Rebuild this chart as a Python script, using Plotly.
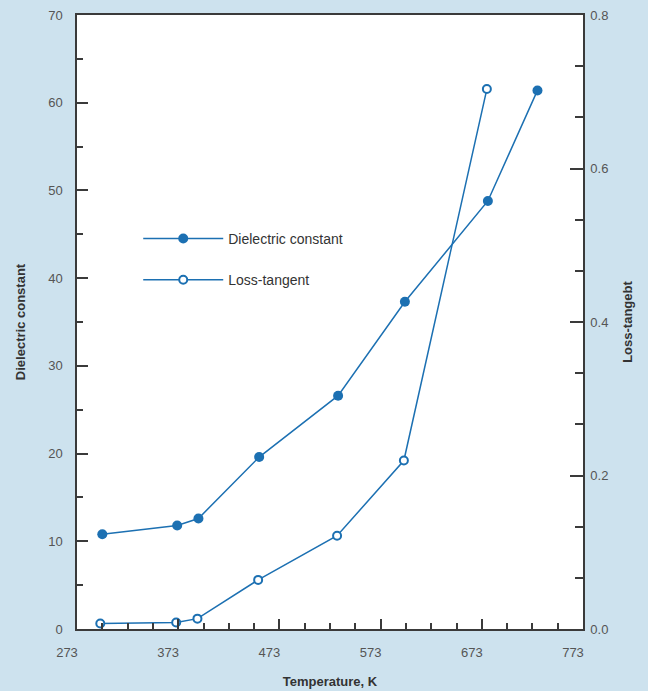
import plotly.graph_objects as go

# Temperature (K) and measured values
temp_dielectric = [298, 372, 393, 453, 531, 597, 679, 728]
dielectric_constant = [10.8, 11.8, 12.6, 19.6, 26.6, 37.3, 48.8, 61.4]

temp_loss = [296, 371, 392, 452, 530, 596, 678]
loss_tangent = [0.0072, 0.0085, 0.0135, 0.064, 0.1215, 0.2195, 0.7035]

x_ticks = [273, 373, 473, 573, 673, 773]

BLUE = "rgb(28,112,178)"
AXIS = "#3a3a3a"
TICKTXT = "#555555"
FONT = "Liberation Sans, Arial, sans-serif"

fig = go.Figure()

fig.add_trace(go.Scatter(
    x=temp_dielectric, y=dielectric_constant,
    name="Dielectric constant", legendgroup="a",
    mode="lines+markers",
    line=dict(color=BLUE, width=1.5),
    marker=dict(symbol="circle", size=10, color=BLUE),
    yaxis="y",
))

fig.add_trace(go.Scatter(
    x=temp_loss, y=loss_tangent,
    name="Loss-tangent", legendgroup="b",
    mode="lines+markers",
    line=dict(color=BLUE, width=1.5),
    marker=dict(symbol="circle", size=8, color="white",
                line=dict(color=BLUE, width=2)),
    yaxis="y2",
))

fig.update_layout(
    width=648, height=691,
    margin=dict(l=77, r=65, t=15, b=62, autoexpand=False),
    paper_bgcolor="#cde2ee",
    plot_bgcolor="white",
    font=dict(family=FONT, size=13, color=TICKTXT),
    showlegend=True,
    legend=dict(
        x=0.121, y=0.602, xanchor="left", yanchor="middle",
        bgcolor="rgba(0,0,0,0)",
        font=dict(family=FONT, size=14, color="#333333"),
        itemwidth=80,
        tracegroupgap=20,
    ),
    xaxis=dict(
        range=[273, 773], automargin=False,
        tickmode="array", tickvals=x_ticks, ticktext=[str(v) for v in x_ticks],
        ticks="inside", ticklen=10, tickwidth=1.5, tickcolor=AXIS,
        minor=dict(dtick=25, tick0=273, ticks="inside", ticklen=6,
                   tickwidth=1.5, tickcolor=AXIS),
        showline=True, linecolor=AXIS, linewidth=1.5, mirror=True,
        showgrid=False, zeroline=False,
        ticklabelshift=-10, ticklabelstandoff=11,
        tickfont=dict(size=13, color=TICKTXT),
        title=dict(text="<b>Temperature, K</b>", standoff=18,
                   font=dict(size=13, color="#333333")),
    ),
    yaxis=dict(
        range=[0, 70], dtick=10, tick0=0, automargin=False,
        ticks="inside", ticklen=11, tickwidth=1.5, tickcolor=AXIS,
        minor=dict(dtick=5, ticks="inside", ticklen=6,
                   tickwidth=1.5, tickcolor=AXIS),
        showline=True, linecolor=AXIS, linewidth=1.5,
        showgrid=False, zeroline=False,
        ticklabelstandoff=10,
        tickfont=dict(size=13, color=TICKTXT),
        title=dict(text="<b>Dielectric constant</b>", standoff=20,
                   font=dict(size=13, color="#333333")),
    ),
    yaxis2=dict(
        range=[0, 0.8], dtick=0.2, tick0=0, tickformat=".1f",
        automargin=False,
        overlaying="y", side="right",
        ticks="inside", ticklen=13, tickwidth=1.5, tickcolor=AXIS,
        minor=dict(dtick=0.2 / 3, tick0=0, ticks="inside", ticklen=8,
                   tickwidth=1.5, tickcolor=AXIS),
        showline=True, linecolor=AXIS, linewidth=1.5,
        showgrid=False, zeroline=False,
        ticklabelstandoff=3,
        tickfont=dict(size=13, color=TICKTXT),
        title=dict(text="<b>Loss-tangebt</b>", standoff=15,
                   font=dict(size=13, color="#333333")),
    ),
)

fig.write_html("out.html")
